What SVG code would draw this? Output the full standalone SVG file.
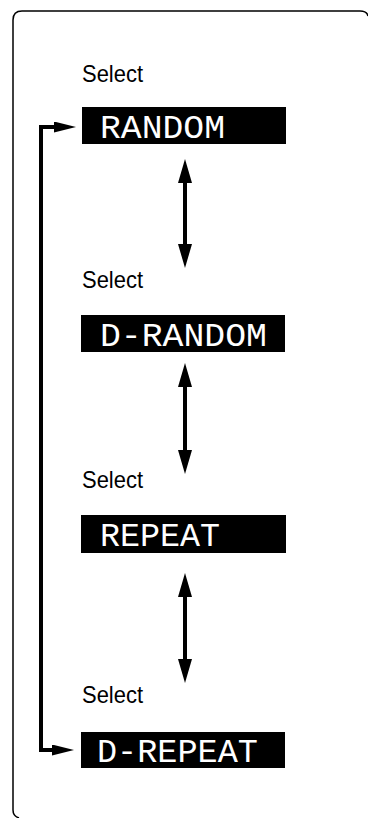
<svg xmlns="http://www.w3.org/2000/svg" width="368" height="818" viewBox="0 0 368 818">
  <style>
    .sel { font-family: "Liberation Sans", Arial, sans-serif; font-size: 24px; fill: #000; }
    .box { fill: #000; }
    .lcd { font-family: "Liberation Mono", "DejaVu Sans Mono", monospace; font-size: 34px; fill: #fff; }
    .conn { fill: none; stroke: #000; stroke-width: 4; stroke-linejoin: miter; }
    .frame { fill: none; stroke: #000; stroke-width: 1.5; }
  </style>
  <defs>
    <marker id="vhead" markerUnits="userSpaceOnUse" viewBox="0 0 24 14" markerWidth="24" markerHeight="14" refX="12" refY="7" orient="auto-start-reverse">
      <path d="M0,0 L24,7 L0,14 z" fill="#000"/>
    </marker>
    <marker id="hhead" markerUnits="userSpaceOnUse" viewBox="0 0 22 11" markerWidth="22" markerHeight="11" refX="10" refY="5.5" orient="auto-start-reverse">
      <path d="M0,0 L22,5.5 L0,11 z" fill="#000"/>
    </marker>
  </defs>
  <rect width="368" height="818" fill="#fff"/>
  <path class="frame" d="M19,818 Q13,816 13,810 L13,20 Q13,11 22,11 L360,11 Q367,11 368,16"/>

  <g id="node-random">
    <text class="sel" x="82" y="82" textLength="61" lengthAdjust="spacingAndGlyphs">Select</text>
    <rect class="box" x="82" y="107" width="204" height="37"/>
    <text class="lcd" x="100" y="138" textLength="125" lengthAdjust="spacingAndGlyphs">RANDOM</text>
  </g>
  <g id="node-drandom">
    <text class="sel" x="82" y="288" textLength="61" lengthAdjust="spacingAndGlyphs">Select</text>
    <rect class="box" x="81" y="315" width="204" height="37"/>
    <text class="lcd" x="100" y="346" textLength="167" lengthAdjust="spacingAndGlyphs">D-RANDOM</text>
  </g>
  <g id="node-repeat">
    <text class="sel" x="82" y="488" textLength="61" lengthAdjust="spacingAndGlyphs">Select</text>
    <rect class="box" x="81" y="515" width="205" height="38"/>
    <text class="lcd" x="100" y="546" textLength="120" lengthAdjust="spacingAndGlyphs">REPEAT</text>
  </g>
  <g id="node-drepeat">
    <text class="sel" x="82" y="703" textLength="61" lengthAdjust="spacingAndGlyphs">Select</text>
    <rect class="box" x="81" y="732" width="204" height="36"/>
    <text class="lcd" x="97" y="762" textLength="161" lengthAdjust="spacingAndGlyphs">D-REPEAT</text>
  </g>

  <g id="connectors">
    <line class="conn" x1="185" y1="171" x2="185" y2="256" marker-start="url(#vhead)" marker-end="url(#vhead)"/>
    <line class="conn" x1="185" y1="375" x2="185" y2="462" marker-start="url(#vhead)" marker-end="url(#vhead)"/>
    <line class="conn" x1="185" y1="585" x2="185" y2="671" marker-start="url(#vhead)" marker-end="url(#vhead)"/>
    <path class="conn" d="M64,127 L41,127 L41,750 L62,750" marker-start="url(#hhead)" marker-end="url(#hhead)"/>
  </g>
</svg>
